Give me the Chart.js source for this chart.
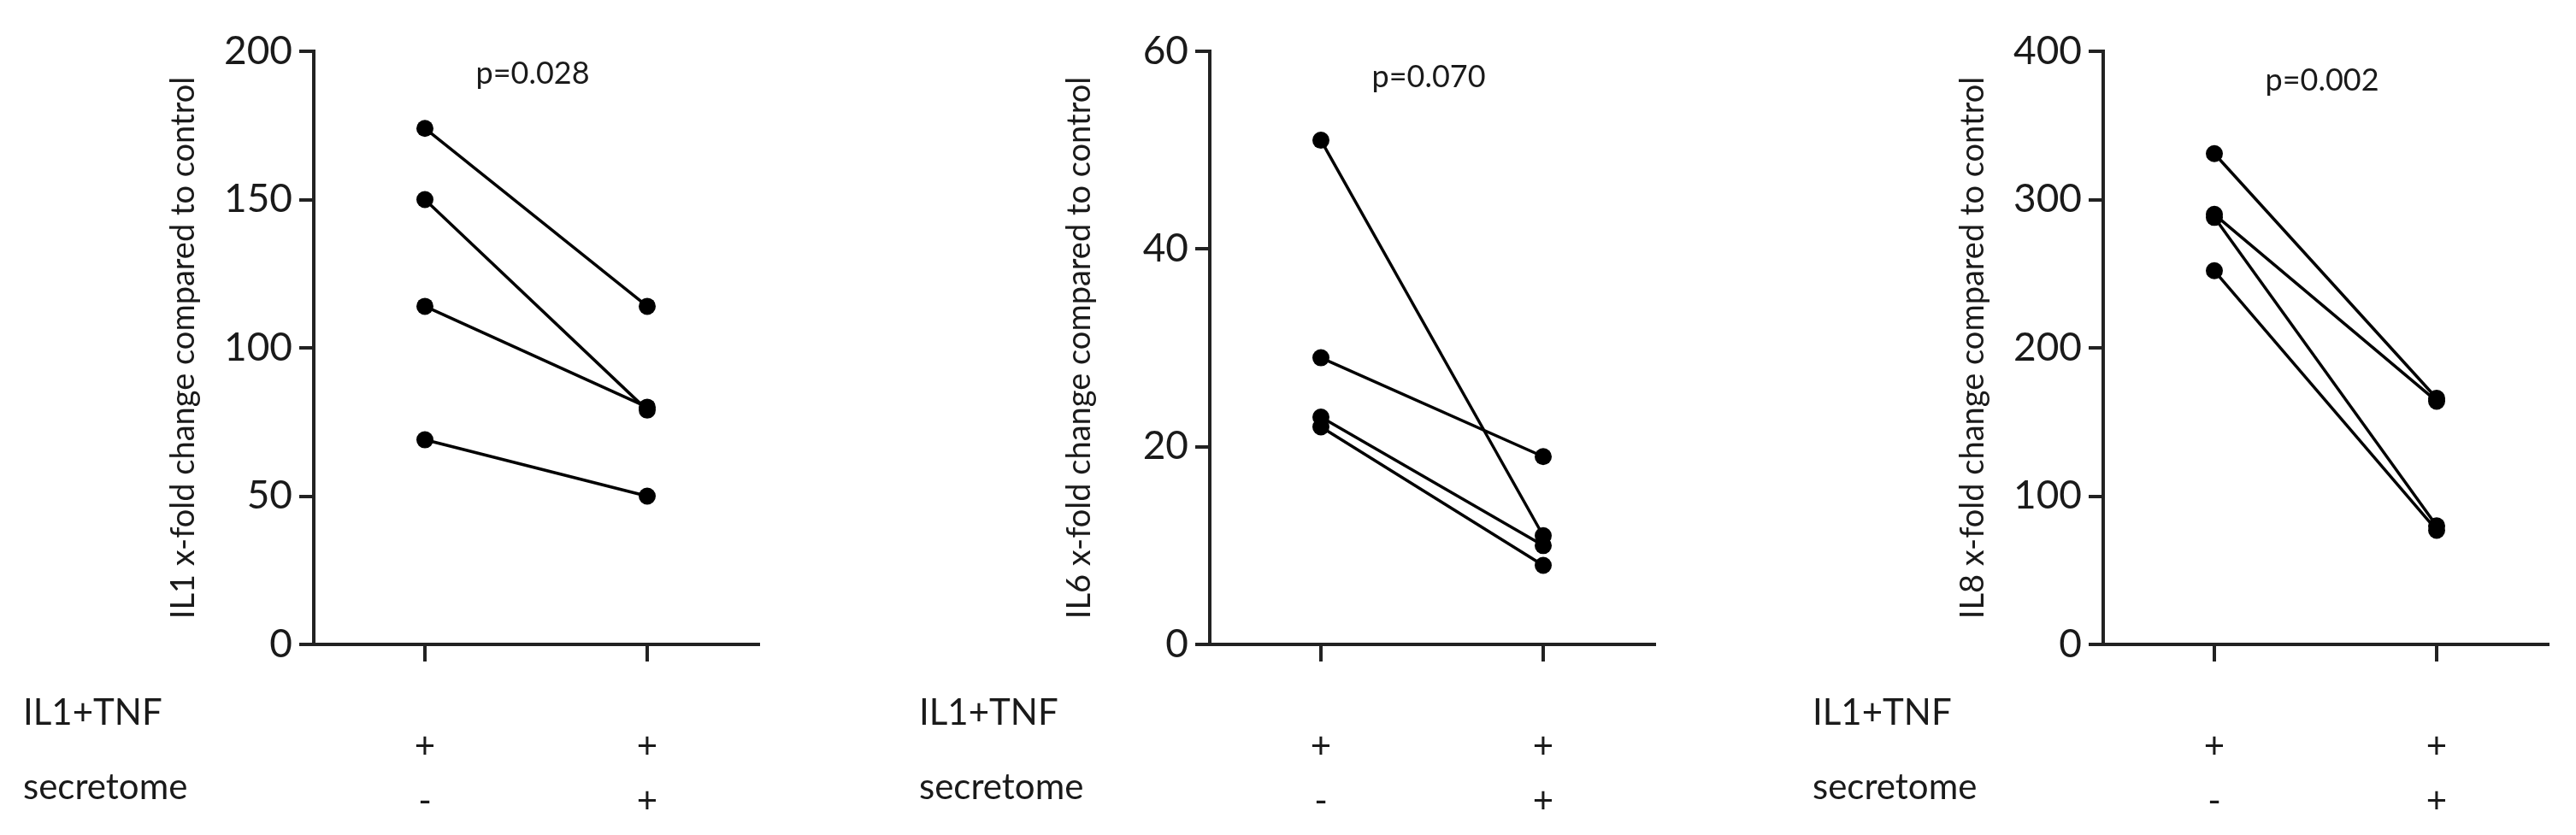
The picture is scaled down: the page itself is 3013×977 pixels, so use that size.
<!DOCTYPE html>
<html><head><meta charset="utf-8">
<script src="https://cdn.jsdelivr.net/npm/chart.js@4.4.1/dist/chart.umd.min.js"></script>
<style>
html,body{margin:0;padding:0;background:#fff;width:3013px;height:977px;overflow:hidden;}
.panel{position:absolute;top:0;width:917px;height:977px;}
canvas{display:block;}
</style></head><body>
<div class="panel" style="left:0px"><canvas id="c0" width="917" height="977"></canvas></div>
<div class="panel" style="left:1048px"><canvas id="c1" width="917" height="977"></canvas></div>
<div class="panel" style="left:2093px"><canvas id="c2" width="917" height="977"></canvas></div>
<script>
// ---- data ----
const conditions = ['IL1+TNF, no secretome', 'IL1+TNF + secretome'];
const rowLabels = ['IL1+TNF', 'secretome'];
const il1TnfSigns = ['+', '+'];
const secretomeSigns = ['-', '+'];

const yTitles = ['IL1 x-fold change compared to control', 'IL6 x-fold change compared to control', 'IL8 x-fold change compared to control'];
const pValues = ['p=0.028', 'p=0.070', 'p=0.002'];
const yMax = [200, 60, 400];
const yStep = [50, 20, 100];

const il1Before = [174, 150, 114, 69];
const il1After  = [114, 79, 80, 50];
const il6Before = [51, 29, 23, 22];
const il6After  = [11, 19, 10, 8];
const il8Before = [331, 290, 288, 252];
const il8After  = [166, 164, 80, 77];

// ---- style ----
const TEXT = '#1a1a1a', AXIS = '#222222';
const FONT = 'Lato, "Open Sans", sans-serif';
const pBaseline = [98, 102, 106];

function makeChart(i, before, after) {
  const datasets = before.map((b, k) => ({
    data: [b, after[k]],
    borderColor: '#000', backgroundColor: '#000', borderWidth: 3.5,
    pointRadius: 10, pointHoverRadius: 10, pointBorderWidth: 0, tension: 0
  }));
  const annot = {
    id: 'annot' + i,
    afterDraw(chart) {
      const {ctx, chartArea: a} = chart;
      ctx.save();
      ctx.fillStyle = TEXT;
      ctx.textBaseline = 'alphabetic';
      ctx.textAlign = 'center';
      ctx.font = '36px ' + FONT;
      ctx.fillText(pValues[i], (a.left + a.right) / 2 - 4, pBaseline[i]);
      ctx.textAlign = 'left';
      ctx.font = '42px ' + FONT;
      ctx.fillText(rowLabels[0], a.left - 340, a.bottom + 94);
      ctx.fillText(rowLabels[1], a.left - 340, a.bottom + 181);
      ctx.restore();
    }
  };
  new Chart(document.getElementById('c' + i), {
    type: 'line',
    data: {labels: conditions, datasets},
    options: {
      responsive: false, animation: false, devicePixelRatio: 1,
      layout: {padding: {top: 60, right: 30, bottom: 0, left: 0}},
      plugins: {legend: {display: false}, tooltip: {enabled: false}, title: {display: false}},
      scales: {
        x: {
          type: 'category', offset: true,
          grid: {display: true, drawOnChartArea: false, drawTicks: true, tickLength: 20, color: AXIS, lineWidth: 4},
          border: {display: true, color: AXIS, width: 4},
          ticks: {
            font: {family: FONT, size: 42, lineHeight: 1.524}, color: TEXT, padding: 67,
            maxRotation: 0, autoSkip: false,
            callback: (v, idx) => [il1TnfSigns[idx], secretomeSigns[idx]]
          },
          afterFit: s => { s.height = 223; }
        },
        y: {
          min: 0, max: yMax[i],
          ticks: {stepSize: yStep[i], font: {family: FONT, size: 46}, color: TEXT, padding: 8},
          grid: {drawOnChartArea: false, tickLength: 17, color: AXIS, lineWidth: 4},
          border: {display: true, color: AXIS, width: 4},
          title: {display: true, text: yTitles[i], font: {family: FONT, size: 38}, color: TEXT, padding: {top: 192, bottom: 0}},
          afterFit: s => { s.width = 367; }
        }
      }
    },
    plugins: [annot]
  });
}

makeChart(0, il1Before, il1After);
makeChart(1, il6Before, il6After);
makeChart(2, il8Before, il8After);
</script>
</body></html>
